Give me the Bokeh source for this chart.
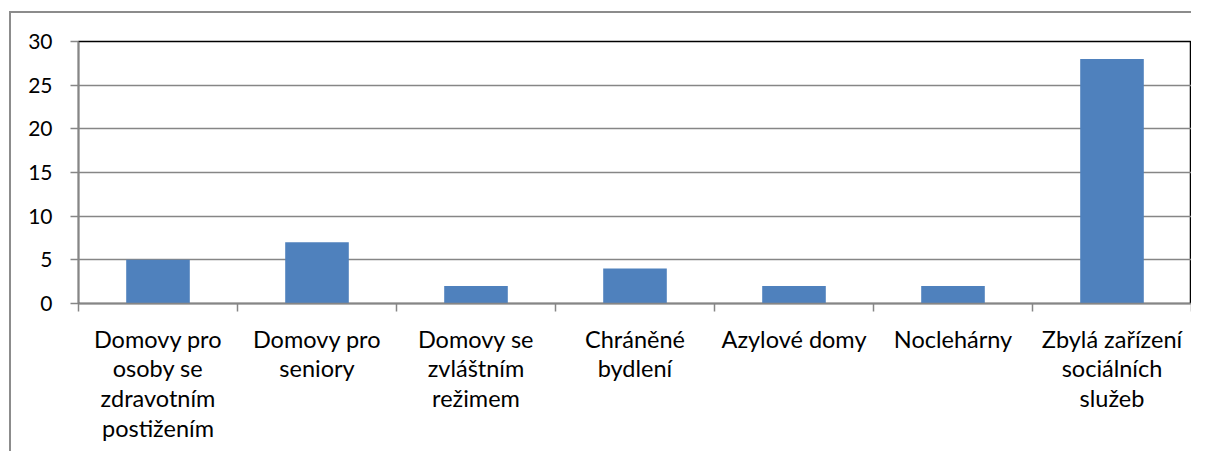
from bokeh.plotting import figure
from bokeh.models import Range1d, FixedTicker, ColumnDataSource
from bokeh.layouts import column
from bokeh.embed import file_html
from bokeh.resources import INLINE

categories = ["Domovy pro osoby se zdravotním postižením", "Domovy pro seniory",
              "Domovy se zvláštním režimem", "Chráněné bydlení", "Azylové domy",
              "Noclehárny", "Zbylá zařízení sociálních služeb"]
tick_labels = ["Domovy pro\nosoby se\nzdravotním\npostižením", "Domovy pro\nseniory",
               "Domovy se\nzvláštním\nrežimem", "Chráněné\nbydlení", "Azylové domy",
               "Noclehárny", "Zbylá zařízení\nsociálních\nslužeb"]
values = [5, 7, 2, 4, 2, 2, 28]
y_ticks = [0, 5, 10, 15, 20, 25, 30]

n = len(categories)
xs = [i + 0.5 for i in range(n)]
src = ColumnDataSource(dict(x=xs, top=values, cat=categories))

FONT = "Lato"
GRAY = "#868686"

p = figure(frame_width=1113, frame_height=262, width=1180, height=438,
           x_range=Range1d(0, n), y_range=Range1d(0, 30),
           output_backend="svg", toolbar_location=None, tools="",
           min_border_left=67, min_border_top=28, min_border_right=0, min_border_bottom=148)

p.vbar(x="x", top="top", width=0.4, source=src, fill_color="#4F81BD", line_color=None)

p.outline_line_color = "black"
p.outline_line_width = 1.5

p.xgrid.grid_line_color = None
p.ygrid.grid_line_color = GRAY
p.ygrid.grid_line_width = 1.5
p.ygrid.ticker = FixedTicker(ticks=y_ticks)

xa = p.xaxis[0]
xa.ticker = FixedTicker(ticks=xs, minor_ticks=list(range(n + 1)))
xa.major_label_overrides = {x: lab for x, lab in zip(xs, tick_labels)}
xa.major_tick_line_color = None
xa.minor_tick_line_color = GRAY
xa.minor_tick_line_width = 1.5
xa.minor_tick_out = 8
xa.minor_tick_in = 0
xa.axis_line_color = GRAY
xa.axis_line_width = 1.5
xa.major_label_text_font = FONT
xa.major_label_text_font_size = "23.5px"
xa.major_label_text_color = "black"
xa.major_label_standoff = 13
xa.major_label_text_line_height = 1.07

ya = p.yaxis[0]
ya.ticker = FixedTicker(ticks=y_ticks)
ya.minor_tick_line_color = None
ya.major_tick_line_color = GRAY
ya.major_tick_line_width = 1.5
ya.major_tick_out = 8
ya.major_tick_in = 0
ya.axis_line_color = GRAY
ya.axis_line_width = 1.5
ya.major_label_text_font = FONT
ya.major_label_text_font_size = "21px"
ya.major_label_text_color = "black"
ya.major_label_standoff = 18

layout = column(p, margin=(11, 0, 0, 9),
                styles={"border-top": "2px solid #8c8c8c", "border-left": "2px solid #8c8c8c"})

open("out.html", "w").write(file_html(layout, INLINE))
